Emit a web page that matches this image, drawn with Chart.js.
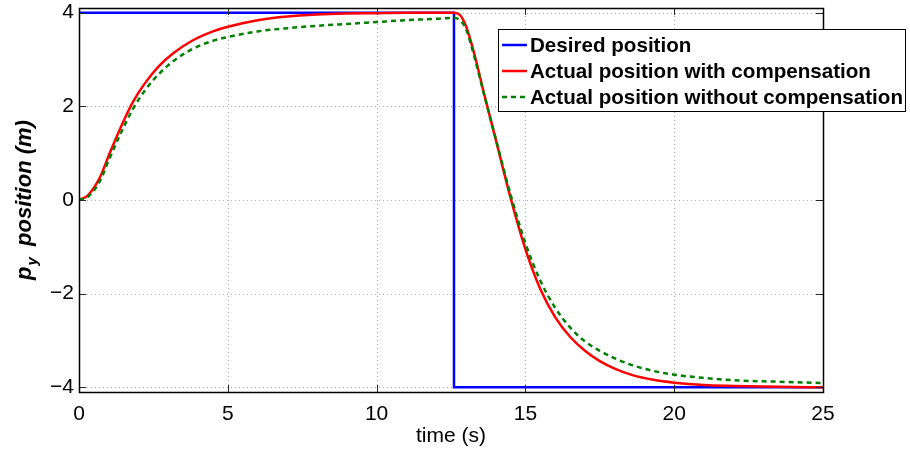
<!DOCTYPE html>
<html>
<head>
<meta charset="utf-8">
<script src="https://cdn.jsdelivr.net/npm/chart.js@4.4.1/dist/chart.umd.min.js"></script>
<style>
  html, body { margin: 0; padding: 0; background: #ffffff; }
  #wrap { width: 910px; height: 449px; position: relative; }
</style>
</head>
<body>
<div id="wrap"><canvas id="c" width="910" height="449"></canvas></div>
<script>
// ---- data ----
const desiredTime = [0, 12.6, 12.6, 25];
const desiredPos  = [4, 4, -4, -4];

const timeS = [0, 0.3, 0.7, 1.0, 1.4, 1.8, 2.2, 2.7, 3.2, 3.8,
               4.5, 5.0, 6.0, 7.0, 8.0, 9.0, 10, 11, 12, 12.6,
               12.8, 13.0, 13.3, 13.6, 14.0, 14.5, 15.0, 15.5, 16.0, 16.5,
               17.0, 17.5, 18.0, 18.6, 19.3, 20.0, 21, 22, 23.5, 25];
const posWithComp = [0, 0.1, 0.48, 0.95, 1.55, 2.08, 2.48, 2.87, 3.15, 3.40,
                     3.60, 3.70, 3.84, 3.92, 3.96, 3.98, 3.99, 4.0, 4.0, 4.0,
                     3.95, 3.72, 3.08, 2.3, 1.3, 0.05, -1.05, -1.9, -2.5, -2.92,
                     -3.22, -3.44, -3.6, -3.74, -3.84, -3.9, -3.95, -3.97, -3.99, -4.0];
const posWithoutComp = [0, 0.07, 0.4, 0.85, 1.42, 1.93, 2.33, 2.7, 2.98, 3.22,
                        3.40, 3.48, 3.60, 3.67, 3.72, 3.76, 3.80, 3.84, 3.87, 3.89,
                        3.84, 3.66, 3.02, 2.28, 1.32, 0.12, -0.92, -1.72, -2.3, -2.72,
                        -3.02, -3.22, -3.38, -3.53, -3.65, -3.73, -3.80, -3.85, -3.88, -3.91];

const xTicks = [0, 5, 10, 15, 20, 25];
const yTicks = [-4, -2, 0, 2, 4];
const seriesNames = ['Desired position', 'Actual position with compensation', 'Actual position without compensation'];
const xTitle = 'time (s)';

const pts = (xs, ys) => xs.map((x, i) => ({x: x, y: ys[i]}));
const FONT = '"Liberation Sans", Arial, Helvetica, sans-serif';

const framePlugin = {
  id: 'frame',
  beforeDatasetsDraw(chart) {
    const {ctx, chartArea: a, scales} = chart;
    ctx.save();
    ctx.strokeStyle = '#b4b4b4';
    ctx.lineWidth = 1;
    ctx.setLineDash([1, 3]);
    xTicks.forEach(v => {
      const px = Math.round(scales.x.getPixelForValue(v)) + 0.5;
      ctx.beginPath(); ctx.moveTo(px, a.top); ctx.lineTo(px, a.bottom); ctx.stroke();
    });
    yTicks.forEach(v => {
      const py = Math.round(scales.y.getPixelForValue(v)) + 0.5;
      ctx.beginPath(); ctx.moveTo(a.left, py); ctx.lineTo(a.right, py); ctx.stroke();
    });
    ctx.restore();
  },
  afterDraw(chart) {
    const {ctx, chartArea: a, scales} = chart;
    ctx.save();
    // inward tick marks
    ctx.strokeStyle = '#262626';
    ctx.lineWidth = 1;
    const tl = 7;
    xTicks.forEach(v => {
      const px = Math.round(scales.x.getPixelForValue(v)) + 0.5;
      ctx.beginPath();
      ctx.moveTo(px, a.bottom); ctx.lineTo(px, a.bottom - tl);
      ctx.moveTo(px, a.top); ctx.lineTo(px, a.top + tl);
      ctx.stroke();
    });
    yTicks.forEach(v => {
      const py = Math.round(scales.y.getPixelForValue(v)) + 0.5;
      ctx.beginPath();
      ctx.moveTo(a.left, py); ctx.lineTo(a.left + tl, py);
      ctx.moveTo(a.right, py); ctx.lineTo(a.right - tl, py);
      ctx.stroke();
    });
    // box
    ctx.strokeStyle = '#000000';
    ctx.lineWidth = 1.5;
    ctx.strokeRect(Math.round(a.left) + 0.5, Math.round(a.top) + 0.5,
                   Math.round(a.right - a.left), Math.round(a.bottom - a.top));

    // y-axis title with subscript
    ctx.fillStyle = '#000000';
    ctx.translate(25, 200);
    ctx.rotate(-Math.PI / 2);
    const big = 'italic bold 22px ' + FONT;
    const small = 'italic bold 15px ' + FONT;
    ctx.font = big;
    const wP = ctx.measureText('p').width;
    const rest = '  position (m)';
    const wRest = ctx.measureText(rest).width;
    ctx.font = small;
    const wY = ctx.measureText('y').width;
    const total = wP + wY + wRest;
    let x0 = -total / 2;
    ctx.textBaseline = 'middle';
    ctx.textAlign = 'left';
    ctx.font = big;
    ctx.fillText('p', x0, 0);
    ctx.font = small;
    ctx.fillText('y', x0 + wP + 1, 8);
    ctx.font = big;
    ctx.fillText(rest, x0 + wP + wY, 0);
    ctx.setTransform(1, 0, 0, 1, 0, 0);

    // legend
    const L = 498.5, T = 29.5, R = 905.5, B = 111.5;
    ctx.fillStyle = '#ffffff';
    ctx.fillRect(L, T, R - L, B - T);
    ctx.strokeStyle = '#000000';
    ctx.lineWidth = 1;
    ctx.strokeRect(L, T, R - L, B - T);
    const rows = [45, 71, 97];
    chart.data.datasets.forEach((ds, i) => {
      const y = rows[i];
      ctx.strokeStyle = ds.borderColor;
      ctx.lineWidth = ds.borderWidth;
      ctx.setLineDash(ds.borderDash || []);
      ctx.beginPath(); ctx.moveTo(502, y); ctx.lineTo(527, y); ctx.stroke();
      ctx.setLineDash([]);
      ctx.fillStyle = '#000000';
      ctx.font = 'bold 20.6px ' + FONT;
      ctx.textBaseline = 'middle';
      ctx.textAlign = 'left';
      ctx.fillText(ds.label, 530, y + 1);
    });
    ctx.restore();
  }
};

new Chart(document.getElementById('c'), {
  type: 'line',
  data: {
    datasets: [
      { label: seriesNames[0], data: pts(desiredTime, desiredPos), borderColor: '#0000ff',
        borderWidth: 2.5, pointRadius: 0, tension: 0, order: 3 },
      { label: seriesNames[1], data: pts(timeS, posWithComp), borderColor: '#ff0000',
        borderWidth: 2.5, pointRadius: 0, cubicInterpolationMode: 'monotone', order: 2 },
      { label: seriesNames[2], data: pts(timeS, posWithoutComp), borderColor: '#008000',
        borderWidth: 2.5, borderDash: [5, 4], pointRadius: 0, cubicInterpolationMode: 'monotone', order: 1 }
    ]
  },
  options: {
    responsive: false,
    animation: false,
    devicePixelRatio: 1,
    layout: { padding: { top: 8, right: 87, left: 0, bottom: 0 } },
    plugins: { legend: { display: false }, tooltip: { enabled: false } },
    scales: {
      x: {
        type: 'linear', min: 0, max: 25,
        afterFit(s) { s.height = 57; s.paddingLeft = 0; s.paddingRight = 0; },
        afterBuildTicks(s) { s.ticks = xTicks.map(v => ({value: v})); },
        grid: { display: false, drawTicks: false },
        border: { display: false },
        ticks: { color: '#000000', padding: 10, maxRotation: 0,
                 font: { family: FONT, size: 21 } },
        title: { display: true, text: xTitle, color: '#000000',
                 font: { family: FONT, size: 21 }, padding: { top: 4, bottom: 0 } }
      },
      y: {
        type: 'linear', min: -4.1, max: 4.1,
        afterFit(s) { s.width = 79; s.paddingTop = 0; s.paddingBottom = 0; },
        afterBuildTicks(s) { s.ticks = yTicks.map(v => ({value: v})); },
        grid: { display: false, drawTicks: false },
        border: { display: false },
        ticks: { color: '#000000', padding: 5,
                 font: { family: FONT, size: 21 },
                 callback: v => (v < 0 ? '\u2212' + Math.abs(v) : String(v)) }
      }
    }
  },
  plugins: [framePlugin]
});
</script>
</body>
</html>
